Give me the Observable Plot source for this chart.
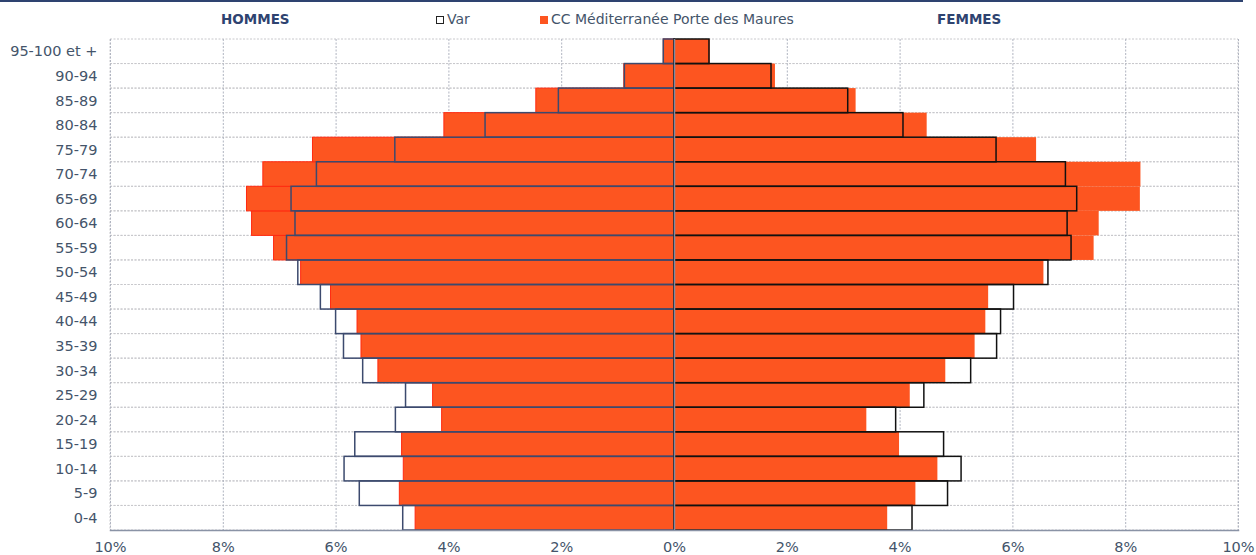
<!DOCTYPE html>
<html>
<head>
<meta charset="utf-8">
<script src="https://cdn.jsdelivr.net/npm/d3@7"></script>
<script src="https://cdn.jsdelivr.net/npm/@observablehq/plot@0.6"></script>
<style>
  body { margin: 0; background: #fff; font-family: "DejaVu Sans", Verdana, sans-serif; }
  #wrap { position: relative; width: 1256px; height: 555px; }
  #header { position: relative; height: 30px; border-top: 2px solid #2e4370; width: 1243px; box-sizing: border-box; }
  .h { position: absolute; top: 9px; font-size: 14px; color: #44546a; white-space: nowrap; line-height: 16px; }
  .b { font-weight: bold; color: #2e4370; font-size: 13.5px; }
  .sw { display: inline-block; width: 8px; height: 8px; margin-right: 3px; vertical-align: 0px; box-sizing: border-box; }
  #chart svg { display: block; }
</style>
</head>
<body>
<div id="wrap">
  <div id="header">
    <div class="h b" style="left:221px">HOMMES</div>
    <div class="h" style="left:436px"><span class="sw" style="border:1px solid #222;background:#fff"></span>Var</div>
    <div class="h" style="left:540px"><span class="sw" style="background:#fd5520"></span>CC Méditerranée Porte des Maures</div>
    <div class="h b" style="left:937px">FEMMES</div>
  </div>
  <div id="chart"></div>
</div>
<script>
const ages = ["0-4","5-9","10-14","15-19","20-24","25-29","30-34","35-39","40-44","45-49","50-54","55-59","60-64","65-69","70-74","75-79","80-84","85-89","90-94","95-100 et +"];
const hommesCC  = [4.59,4.87,4.80,4.83,4.12,4.28,5.25,5.55,5.62,6.09,6.62,7.10,7.49,7.58,7.29,6.41,4.08,2.45,0.89,0.19];
const hommesVar = [4.81,5.58,5.85,5.66,4.94,4.76,5.52,5.86,6.00,6.27,6.67,6.87,6.72,6.79,6.34,4.95,3.35,2.05,0.88,0.19];
const femmesCC  = [3.78,4.28,4.67,3.99,3.41,4.18,4.81,5.33,5.52,5.57,6.55,7.44,7.53,8.26,8.27,6.42,4.48,3.22,1.79,0.635];
const femmesVar = [4.22,4.85,5.09,4.78,3.93,4.43,5.26,5.72,5.79,6.02,6.63,7.04,6.97,7.14,6.94,5.71,4.06,3.08,1.72,0.62];
const xTicks = [-10,-8,-6,-4,-2,0,2,4,6,8,10];

const rows = ages.map((a, i) => ({age: a, hCC: hommesCC[i], hVar: hommesVar[i], fCC: femmesCC[i], fVar: femmesVar[i]}));
const orange = "#fd5520";
const textCol = "#44546a";

const plot = Plot.plot({
  width: 1256,
  height: 525,
  marginLeft: 110,
  marginRight: 18,
  marginTop: 9,
  marginBottom: 25,
  style: {fontFamily: "'DejaVu Sans', Verdana, sans-serif", fontSize: "14.5px", color: textCol, background: "#fff"},
  x: {domain: [-10, 10], ticks: xTicks, tickFormat: d => Math.abs(d) + "%", label: null, tickSize: 0, tickPadding: 11},
  y: {domain: ages.slice().reverse(), padding: 0, round: false, label: null, tickSize: 0, tickPadding: 13},
  marks: [
    // horizontal dashed grid (band boundaries)
    Plot.barX(ages, {y: d => d, x1: -10, x2: 10, fill: "none", stroke: "#c8c8cc", strokeDasharray: "2,1.5", strokeWidth: 1}),
    // vertical dashed grid
    Plot.ruleX(xTicks.filter(d => d !== 0), {stroke: "#b0b4c0", strokeDasharray: "2,1.5", strokeWidth: 1}),
    // Var white fill behind
    Plot.barX(rows, {y: "age", x1: 0, x2: d => -d.hVar, fill: "#fff"}),
    Plot.barX(rows, {y: "age", x1: 0, x2: d => d.fVar, fill: "#fff"}),
    // CC bars
    Plot.barX(rows, {y: "age", x1: 0, x2: d => -d.hCC, fill: orange, stroke: "#ff2a10", strokeWidth: 1}),
    Plot.barX(rows, {y: "age", x1: 0, x2: d => d.fCC, fill: orange}),
    // Var outlines on top
    Plot.barX(rows, {y: "age", x1: 0, x2: d => -d.hVar, fill: "none", stroke: "#3c4a6e", strokeWidth: 1.5}),
    Plot.barX(rows, {y: "age", x1: 0, x2: d => d.fVar, fill: "none", stroke: "#111", strokeWidth: 1.5}),
    // zero line
    Plot.ruleX([0], {stroke: "#7f8aa0", strokeWidth: 1.5}),
    Plot.frame({anchor: "bottom", stroke: "#8a93a6", strokeWidth: 1.5}),
    Plot.axisX({ticks: xTicks, tickFormat: d => Math.abs(d) + "%", tickSize: 0, tickPadding: 11, fill: textCol, label: null}),
    Plot.axisY({tickSize: 0, tickPadding: 13, fill: textCol, label: null})
  ]
});
document.getElementById("chart").appendChild(plot);
</script>
</body>
</html>
